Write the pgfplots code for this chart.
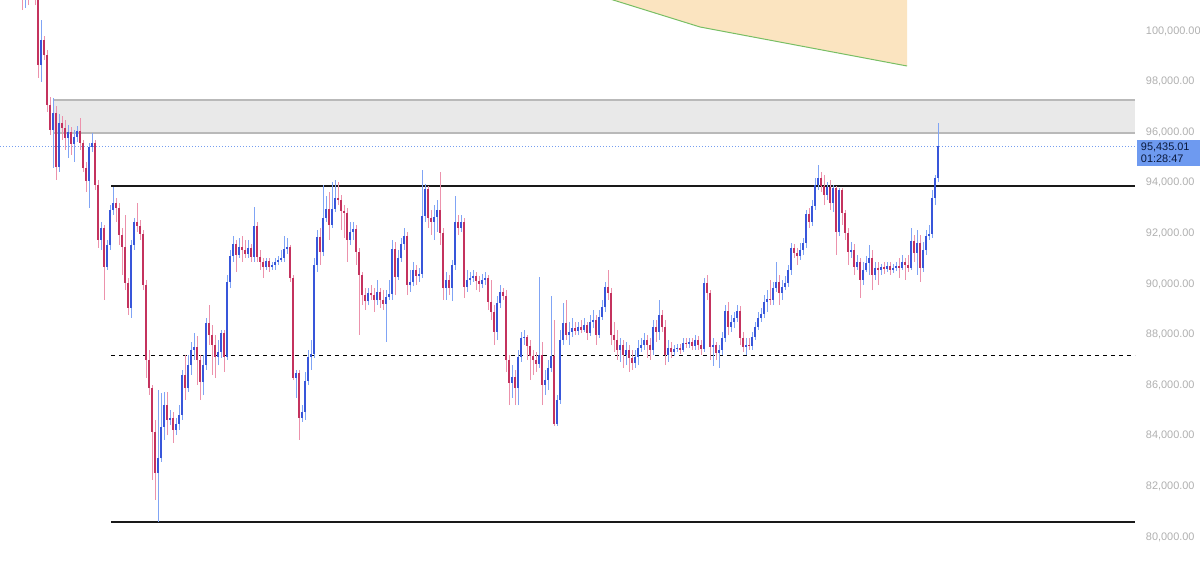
\documentclass[border=0pt]{standalone}
\usepackage{fontspec}
\setmainfont{Liberation Sans}
\usepackage{pgfplots}
\usepackage{pgfplotstable}
\pgfplotsset{compat=1.18}
\definecolor{upbody}{RGB}{56,86,218}
\definecolor{dnbody}{RGB}{196,50,94}
\definecolor{upwick}{RGB}{128,164,245}
\definecolor{dnwick}{RGB}{236,146,172}
\definecolor{bandfill}{RGB}{233,233,233}
\definecolor{bandline}{RGB}{185,185,185}
\definecolor{lastblue}{RGB}{118,158,240}
\definecolor{boxblue}{RGB}{110,154,240}
\definecolor{ticktext}{RGB}{176,176,176}
\definecolor{cloudfill}{RGB}{251,228,192}
\definecolor{cloudline}{RGB}{120,190,100}
\pgfplotstableread{
x o h l c
22 102411 102609 100830 101620
25 101620 102411 100909 102016
28 102016 102213 101027 101423
31 101423 102213 101225 101818
35 101818 102016 101027 101225
38 101225 101423 98142 98655
41 98655 100434 97984 99644
44 99644 99802 98853 99050
47 99050 99248 96798 97074
50 97074 97390 95888 96086
53 96086 97351 94584 96758
56 96758 97035 94110 94623
59 94623 96719 94426 96362
62 96362 96640 95691 96165
65 96165 96481 95296 95770
68 95770 96284 94979 96007
71 96007 96204 95098 95533
74 95533 96086 94821 95810
77 95810 96244 95612 96047
80 96047 96561 95296 95572
83 95572 95691 94426 94584
86 94584 94821 93635 94070
89 94070 95572 93003 95415
92 95415 95967 95217 95572
95 95572 95691 93714 93912
98 93912 94110 91422 91738
101 91738 92450 91343 92212
104 92212 92331 89366 90671
107 90671 91738 90552 91540
110 91540 93121 91343 92924
113 92924 93833 92726 93200
116 93200 93398 92450 93003
119 93003 93200 91540 91936
122 91936 92212 90355 91461
125 91461 92726 89761 90038
128 90038 90236 88773 89050
131 89050 91738 88655 91540
134 91540 92608 91343 92450
137 92450 93200 92054 92291
140 92291 92529 91738 91975
143 91975 92133 89761 89959
146 89959 90157 86283 86994
149 86994 87390 85611 85887
152 85887 86006 82251 84148
155 84148 84623 81460 82527
158 82527 85808 80591 83120
161 83120 85689 82962 84346
164 84346 85729 83832 85215
167 85215 85729 84029 84623
170 84623 85018 84425 84702
173 84702 84939 83713 84227
176 84227 84702 84029 84465
179 84465 85215 84227 84820
182 84820 86599 84623 86401
185 86401 87192 85413 85887
188 85887 87192 85729 86796
191 86796 87706 86401 87390
194 87390 88061 86994 87509
197 87509 87943 86006 86994
200 86994 87192 85413 86125
203 86125 87192 85611 86796
206 86796 88655 86599 88457
209 88457 89168 87588 87983
212 87983 88378 86401 87588
215 87588 87983 86283 87113
218 87113 87785 86796 87311
221 87311 88180 87074 88061
224 88061 88180 86520 87113
227 87113 90355 86994 90078
230 90078 91343 89840 91105
233 91105 91896 90868 91580
236 91580 91738 90473 91145
239 91145 91817 91027 91461
242 91461 91896 90868 91343
245 91343 91738 91027 91185
248 91185 91738 91027 91422
251 91422 91580 90868 91066
254 91066 93042 90868 92291
257 92291 92450 90868 91066
260 91066 91343 90552 90868
263 90868 91027 90236 90671
266 90671 91027 90552 90908
269 90908 91027 90473 90671
272 90671 90868 90552 90750
275 90750 91027 90552 90868
278 90868 91105 90750 90947
281 90947 91343 90868 91027
284 91027 91896 90868 91382
287 91382 91817 91185 91461
290 91461 91540 90078 90236
293 90236 90355 86204 86283
296 86283 86599 85492 86480
299 86480 86599 83832 84702
302 84702 85215 84544 84939
305 84939 86520 84623 86164
308 86164 87390 86006 87113
311 87113 87785 86599 87232
314 87232 91027 87074 90750
317 90750 92133 90473 91857
320 91857 92212 90750 91264
323 91264 93912 91105 92608
326 92608 93477 92450 92963
329 92963 93635 91738 92331
332 92331 94031 92212 92963
335 92963 94110 92845 93398
338 93398 94031 93121 93319
341 93319 93516 92133 92884
344 92884 93121 91817 92805
347 92805 93003 90868 91738
350 91738 92450 91540 92054
353 92054 92450 91738 92173
356 92173 92331 90750 91264
359 91264 91422 87983 90355
362 90355 90473 89168 89563
365 89563 89840 88971 89326
368 89326 89840 89168 89642
371 89642 89959 89366 89563
374 89563 89840 88892 89366
377 89366 90157 89168 89682
380 89682 89840 89050 89366
383 89366 89761 88971 89208
386 89208 89761 87706 89484
389 89484 90157 89366 89603
392 89603 91738 89366 91382
395 91382 91659 89563 90275
398 90275 91343 90157 91027
401 91027 91817 90868 91580
404 91580 92212 91343 91896
407 91896 92054 89563 89959
410 89959 90552 89682 90078
413 90078 90868 89919 90552
416 90552 90750 89959 90315
419 90315 90631 90078 90394
422 90394 94505 90236 92687
425 92687 93952 92450 93754
428 93754 93873 92212 92608
431 92608 92924 91936 92450
434 92450 93121 91738 92647
437 92647 93319 92054 92924
440 92924 94426 91540 92015
443 92015 92212 89366 89840
446 89840 90473 89366 90157
449 90157 90355 89563 89840
452 89840 90947 89326 90750
455 90750 93477 90552 92450
458 92450 92726 91936 92212
461 92212 92726 92054 92450
464 92450 92608 89445 89880
467 89880 90552 89682 90157
470 90157 90473 89959 90236
473 90236 90552 90078 90315
476 90315 90473 89761 90117
479 90117 90315 89682 89998
482 89998 90394 89840 90157
485 90157 90473 89959 90236
488 90236 90355 88971 89287
491 89287 90157 88576 88892
494 88892 89168 87588 88101
497 88101 89524 87785 89247
500 89247 89959 89050 89682
503 89682 89840 89366 89524
506 89524 89761 86520 86994
509 86994 87192 85215 86085
512 86085 86796 85492 86322
515 86322 86599 85215 85887
518 85887 87390 85215 87113
521 87113 88101 86915 87864
524 87864 88180 87588 87904
527 87904 87983 86994 87548
530 87548 87785 86204 87153
533 87153 87390 86401 86994
536 86994 87311 86520 86836
539 86836 90275 86678 87192
542 87192 87706 85215 86006
545 86006 86599 85611 86204
548 86204 86994 85808 86678
551 86678 89524 86520 87153
554 87153 88576 84386 84465
557 84465 85611 84386 85413
560 85413 88180 85255 87785
563 87785 89247 87588 88457
566 88457 89366 87785 87983
569 87983 88497 87588 88101
572 88101 88655 87904 88259
575 88259 88497 87983 88141
578 88141 88497 87983 88299
581 88299 88576 88061 88180
584 88180 88655 88101 88378
587 88378 88497 87785 88061
590 88061 88773 87943 88497
593 88497 88971 88259 88576
596 88576 88773 87588 87983
599 87983 88971 87864 88694
602 88694 89366 88576 89089
605 89089 90078 88892 89880
608 89880 90552 89366 89642
611 89642 89840 87588 87983
614 87983 88497 87311 87785
617 87785 88180 86994 87390
620 87390 87864 86915 87588
623 87588 87785 86678 87192
626 87192 87706 86796 87390
629 87390 87588 86520 87074
632 87074 87390 86599 86875
635 86875 87390 86678 87113
638 87113 87785 86796 87469
641 87469 87864 87311 87588
644 87588 88061 87390 87785
647 87785 87983 87074 87588
650 87588 87864 86994 87390
653 87390 88576 87192 88299
656 88299 88576 87706 88101
659 88101 89366 87785 88773
662 88773 88971 88101 88299
665 88299 88576 86796 87192
668 87192 87785 86915 87469
671 87469 87706 87074 87311
674 87311 87588 87153 87430
677 87430 87627 87311 87469
680 87469 87627 87232 87390
683 87390 87864 87311 87667
686 87667 87864 87469 87627
689 87627 87864 87469 87706
692 87706 87864 87390 87548
695 87548 87983 87390 87785
698 87785 87943 87390 87588
701 87588 87785 87192 87430
704 87430 90236 87311 90038
707 90038 90355 89366 89642
710 89642 89761 86994 87509
713 87509 87864 86757 87588
716 87588 87706 86994 87271
719 87271 87588 86678 87390
722 87390 88101 87192 87864
725 87864 89168 87706 88931
728 88931 89287 87983 88299
731 88299 88773 88101 88497
734 88497 88892 88259 88655
737 88655 89168 88497 88931
740 88931 89129 87588 87864
743 87864 88101 87311 87509
746 87509 87864 87192 87588
749 87588 87864 87390 87548
752 87548 88101 87390 87904
755 87904 88497 87785 88299
758 88299 88892 88180 88655
761 88655 89050 88497 88813
764 88813 89563 88655 89287
767 89287 89761 88892 89405
770 89405 90157 89168 89366
773 89366 90078 89168 89840
776 89840 90868 89682 90078
779 90078 90355 89168 89642
782 89642 90157 89366 89880
785 89880 90315 89761 90038
788 90038 90750 89880 90552
791 90552 91619 90355 91422
794 91422 91580 91027 91224
797 91224 91422 90750 91105
800 91105 91619 90947 91343
803 91343 91817 91145 91619
806 91619 92924 91422 92766
809 92766 93003 92212 92450
812 92450 93319 92291 93082
815 93082 94189 92924 93912
818 93912 94703 93714 94189
821 94189 94426 93635 93872
824 93872 94307 93121 93516
827 93516 94031 93319 93833
830 93833 94110 92924 93200
833 93200 93912 92845 93793
836 93793 93873 91145 92054
839 92054 93793 91896 93714
842 93714 93793 92331 92805
845 92805 92924 91738 92015
848 92015 92212 90750 91264
851 91264 91659 91027 91343
854 91343 91580 90355 90671
857 90671 91145 90552 90868
860 90868 91027 89445 90157
863 90157 90868 89959 90552
866 90552 91105 90473 90829
869 90829 91540 90355 91027
872 91027 91343 89761 90355
875 90355 90868 90157 90631
878 90631 90868 89959 90552
881 90552 90789 90355 90671
884 90671 90868 90394 90592
887 90592 90868 90473 90710
890 90710 90868 90355 90552
893 90552 90789 90434 90631
896 90631 90868 90513 90710
899 90710 91027 90236 90631
902 90631 91145 90552 90868
905 90868 91027 90157 90750
908 90750 91145 90473 90631
911 90631 92212 90552 91698
914 91698 91936 90868 91224
917 91224 92133 90355 91619
920 91619 91936 90078 90631
923 90631 91659 90473 91343
926 91343 92133 91145 91896
929 91896 92331 91738 91975
932 91975 93714 91817 93398
935 93398 94307 93121 94189
938 94189 96362 94031 95435
}\ohlc
\begin{document}
\begin{tikzpicture}
\useasboundingbox (0,0) rectangle (900pt,431.25pt);
\begin{axis}[
  at={(0,0)}, anchor=south west,
  scale only axis, width=851.25pt, height=431.25pt,
  xmin=0, xmax=1135, ymin=78495, ymax=101225,
  axis line style={draw=none},
  xtick=\empty,
  ytick={80000,82000,84000,86000,88000,90000,92000,94000,96000,98000,100000},
  yticklabel pos=right,
  major tick length=0pt, tick style={draw=none},
  scaled y ticks=false,
  /pgf/number format/assume math mode=true,
  yticklabel style={font=\fontsize{8.2}{9}\selectfont, text=ticktext,
    anchor=west, inner sep=0pt, xshift=8pt,
    /pgf/number format/fixed, /pgf/number format/fixed zerofill,
    /pgf/number format/precision=2, /pgf/number format/1000 sep={,}},
]
% cloud area
\addplot[fill=cloudfill, draw=none, forget plot] coordinates {(581,101620) (700,100158) (907,98616) (907,101620)};
\addplot[draw=cloudline, line width=0.75pt, forget plot] coordinates {(581,101620) (700,100158) (907,98616)};
% grey band
\addplot[fill=bandfill, draw=none, forget plot] coordinates {(53,95967) (1135,95967) (1135,97272) (53,97272)};
\addplot[draw=bandline, line width=1.1pt, forget plot] coordinates {(53,97272) (1135,97272)};
\addplot[draw=bandline, line width=1.1pt, forget plot] coordinates {(53,95967) (1135,95967)};
% level lines
\addplot[draw=black!90, line width=1.5pt, forget plot] coordinates {(111,93873) (1135,93873)};
\addplot[draw=black!90, line width=1.5pt, forget plot] coordinates {(111,80591) (1135,80591)};
\addplot[draw=black, line width=0.75pt, dash pattern=on 3pt off 3pt, forget plot] coordinates {(111,87153) (1135,87153)};
\addplot[draw=lastblue, line width=0.75pt, dash pattern=on 0.75pt off 1.5pt, forget plot] coordinates {(0,95435) (1135,95435)};
% wicks
\addplot[forget plot, mark=none, draw=upwick, line width=0.75pt, -,
  quiver={u=0, v=\thisrow{h}-\thisrow{l}},
  restrict expr to domain={\thisrow{c}-\thisrow{o}}{0:1000000}]
  table[x=x, y=l] {\ohlc};
\addplot[forget plot, mark=none, draw=dnwick, line width=0.75pt, -,
  quiver={u=0, v=\thisrow{h}-\thisrow{l}},
  restrict expr to domain={\thisrow{o}-\thisrow{c}}{1:1000000}]
  table[x=x, y=l] {\ohlc};
% bodies
\addplot[forget plot, mark=none, draw=upbody, line width=2.1pt, line cap=butt, -,
  quiver={u=0, v={max(\thisrow{c}-\thisrow{o},40)}},
  restrict expr to domain={\thisrow{c}-\thisrow{o}}{0:1000000}]
  table[x=x, y=o] {\ohlc};
\addplot[forget plot, mark=none, draw=dnbody, line width=2.1pt, line cap=butt, -,
  quiver={u=0, v={max(\thisrow{o}-\thisrow{c},40)}},
  restrict expr to domain={\thisrow{o}-\thisrow{c}}{1:1000000}]
  table[x=x, y=c] {\ohlc};
\end{axis}
\fill[boxblue] (852.75pt,306.75pt) rectangle (900pt,326.25pt);
\node[anchor=west, inner sep=0pt, font=\fontsize{8.2}{9}\selectfont, text={rgb,255:red,10;green,25;blue,60}] at (855.5pt,321pt) {95,435.01};
\node[anchor=west, inner sep=0pt, font=\fontsize{8.2}{9}\selectfont, text={rgb,255:red,10;green,25;blue,60}] at (855.5pt,312pt) {01:28:47};
\end{tikzpicture}
\end{document}
